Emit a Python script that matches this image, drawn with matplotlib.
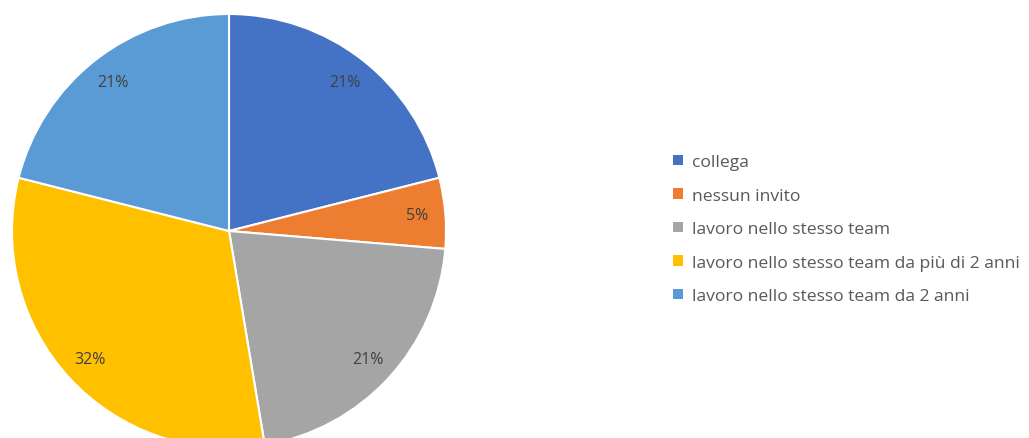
import matplotlib.pyplot as plt
from matplotlib.patches import Patch

plt.rcParams['font.family'] = ['Open Sans', 'DejaVu Sans']

labels = ['collega', 'nessun invito', 'lavoro nello stesso team',
          'lavoro nello stesso team da più di 2 anni',
          'lavoro nello stesso team da 2 anni']
counts = [4, 1, 4, 6, 4]
colors = ['#4472C4', '#ED7D31', '#A5A5A5', '#FFC000', '#5B9BD5']

fig = plt.figure(figsize=(10.29, 4.39), dpi=100)
ax = fig.add_axes([0.01166, -0.0228, 0.4218, 0.9886])
wedges, texts, autotexts = ax.pie(
    counts, colors=colors, startangle=90, counterclock=False,
    autopct=lambda p: f'{p:.0f}%', pctdistance=0.87, radius=1,
    wedgeprops=dict(edgecolor='white', linewidth=1.5),
    textprops=dict(color='#404040', fontsize=11.5))
ax.set_xlim(-1, 1)
ax.set_ylim(-1, 1)
ax.set_aspect('equal')

handles = [Patch(facecolor=c, edgecolor='none') for c in colors]
fig.legend(handles, labels, loc='center left', bbox_to_anchor=(0.639, 0.476),
           frameon=False, fontsize=12.6, labelcolor='#595959',
           handlelength=0.55, handleheight=0.55, handletextpad=0.5,
           labelspacing=1.0)

fig.savefig('out.png', dpi=100)
